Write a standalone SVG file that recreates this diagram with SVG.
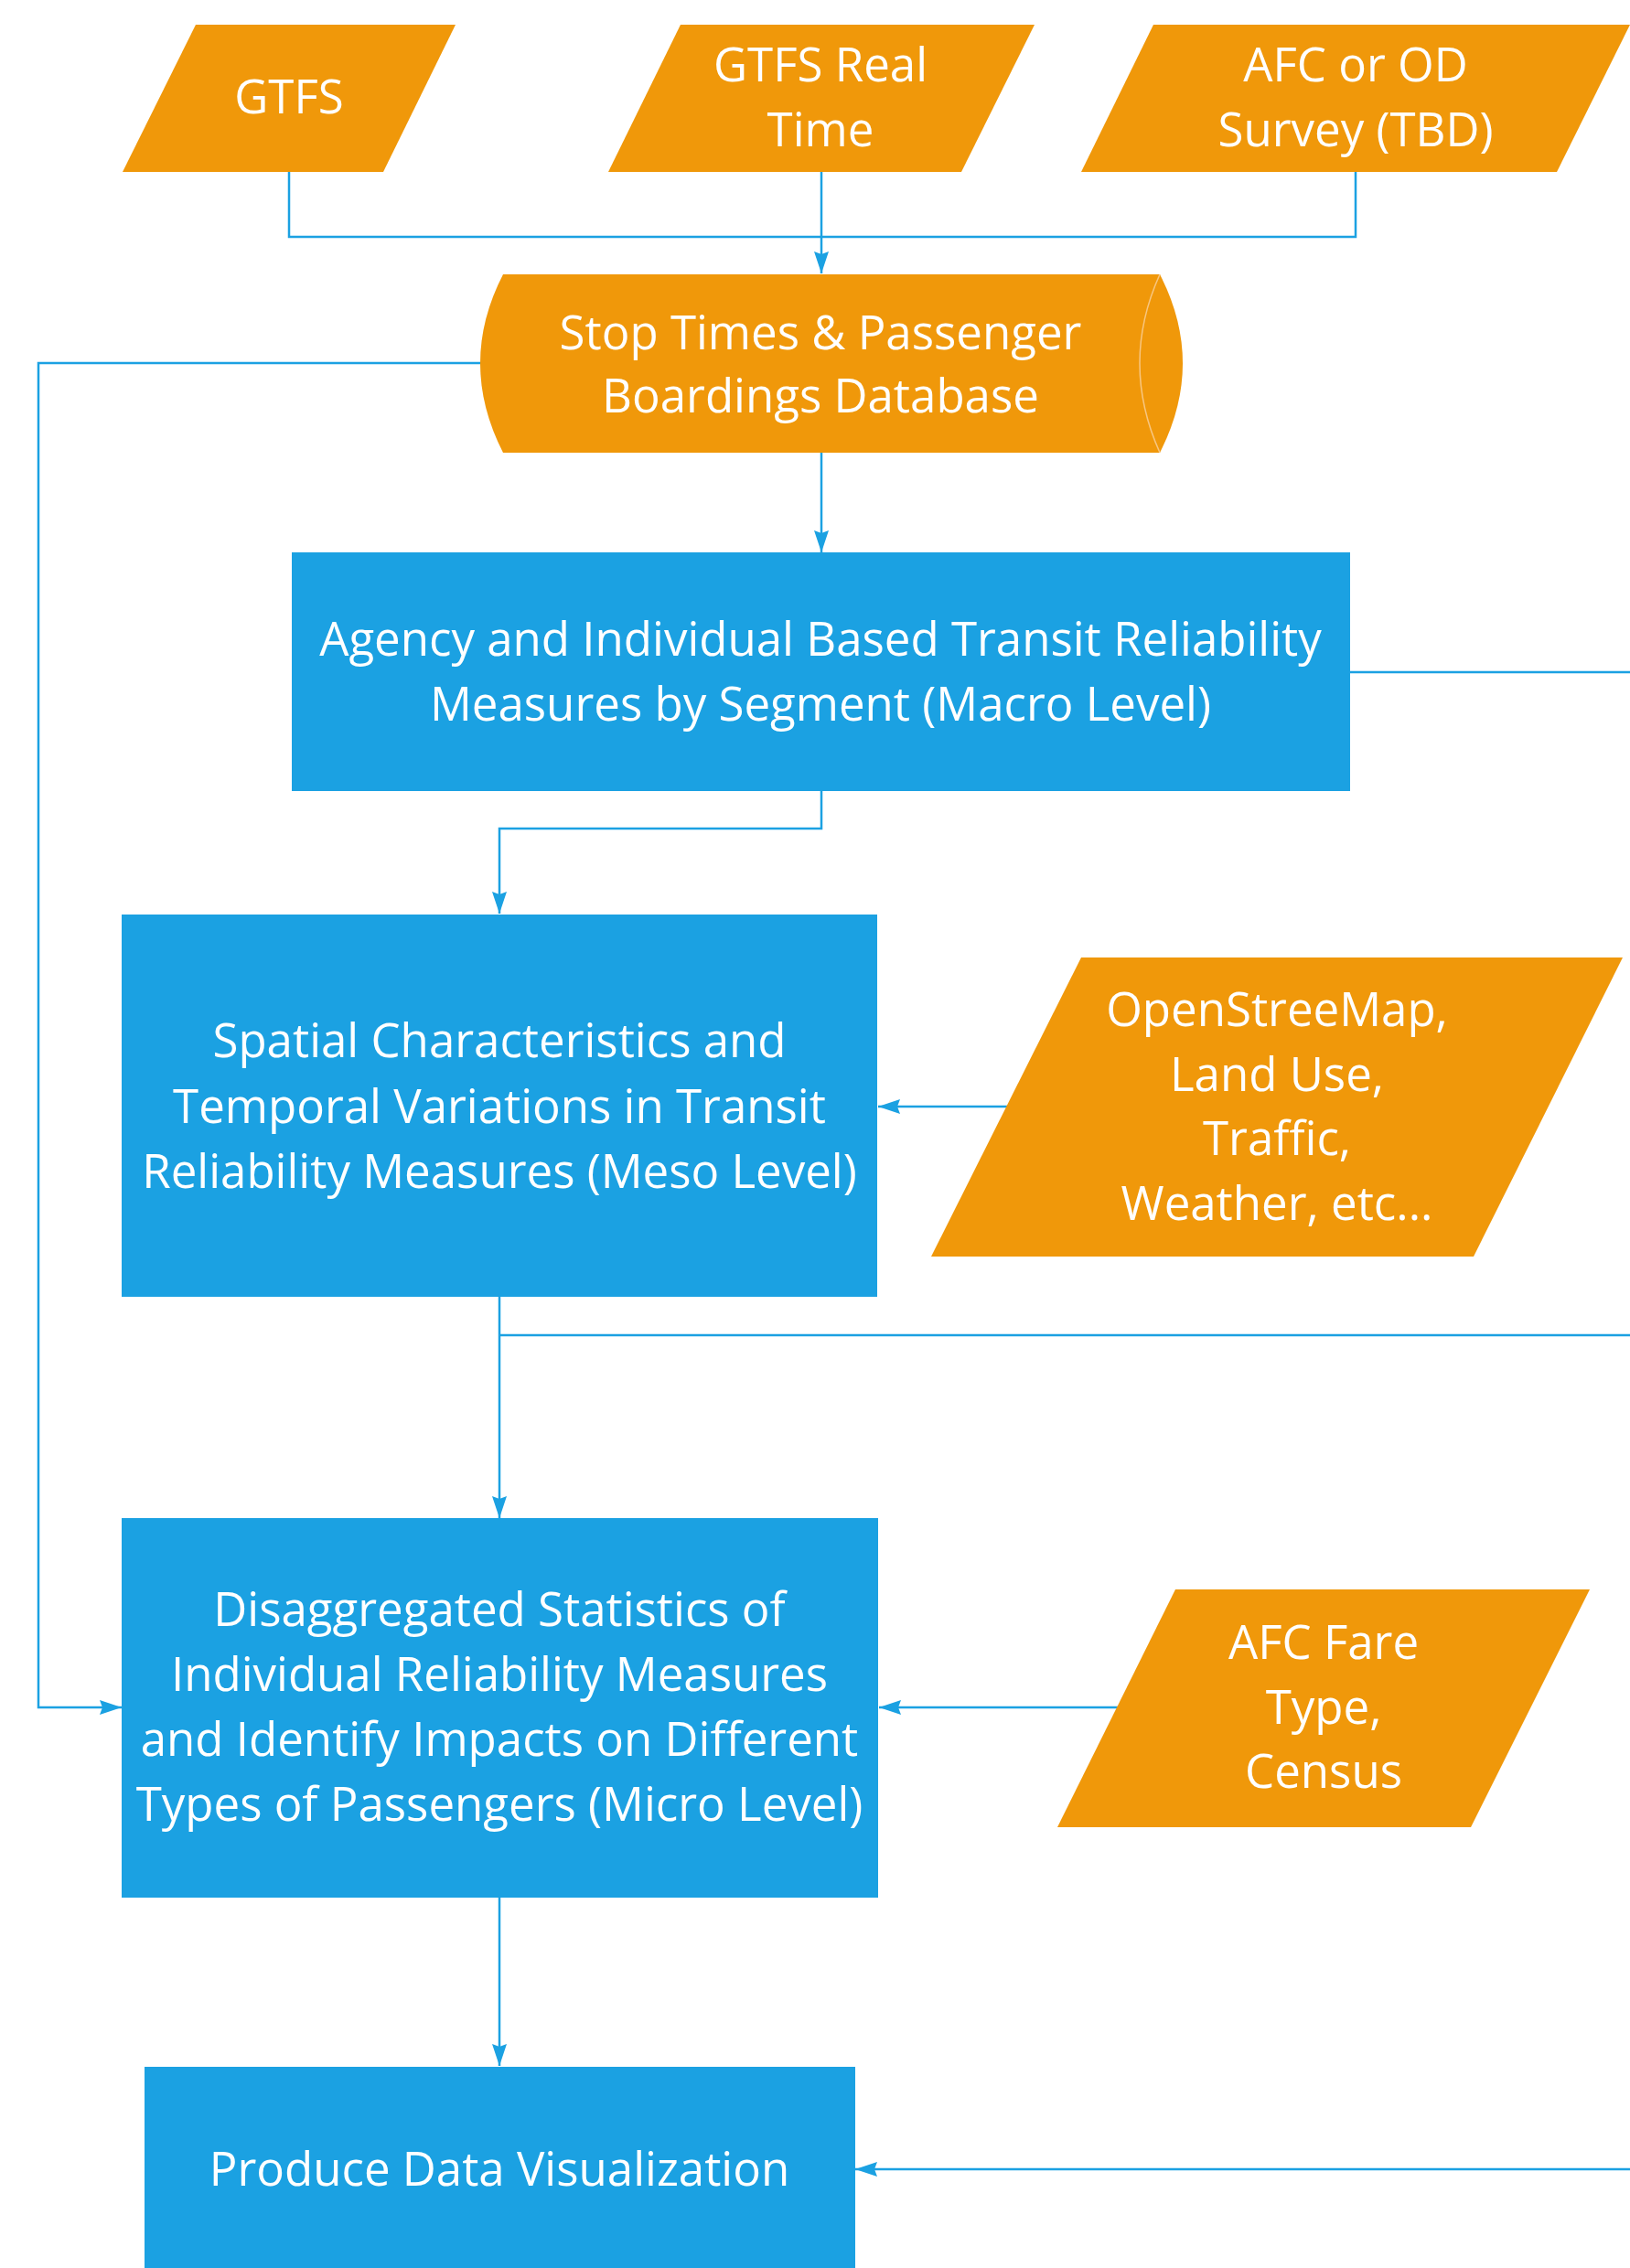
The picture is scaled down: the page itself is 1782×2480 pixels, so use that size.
<svg xmlns="http://www.w3.org/2000/svg" width="1782" height="2480" viewBox="0 0 1782 2480">
<defs>
<marker id="ah" markerUnits="userSpaceOnUse" markerWidth="26" markerHeight="18" refX="24" refY="8" orient="auto">
<path d="M0,0 L24,8 L0,16 L3,8 Z" fill="#1BA1E2"/>
</marker>
</defs>
<style>
.io{fill:#F0980A;}
.pr{fill:#1BA1E2;}
.t{font-family:"Open Sans","Noto Sans","Liberation Sans",sans-serif;font-size:51px;fill:#FFFFFF;text-anchor:middle;}
.c{fill:none;stroke:#1BA1E2;stroke-width:2.5;}
</style>
<rect width="1782" height="2480" fill="#FFFFFF"/>
<g id="connectors">
<polyline class="c" points="316,187 316,259 1482,259 1482,187"/>
<line class="c" x1="898" y1="188" x2="898" y2="299" marker-end="url(#ah)"/>
<line class="c" x1="898" y1="495" x2="898" y2="604" marker-end="url(#ah)"/>
<polyline class="c" points="526,397 42,397 42,1867 133,1867" marker-end="url(#ah)"/>
<line class="c" x1="1476" y1="735" x2="1782" y2="735"/>
<polyline class="c" points="898,865 898,906 546,906 546,999" marker-end="url(#ah)"/>
<line class="c" x1="1102" y1="1210" x2="960" y2="1210" marker-end="url(#ah)"/>
<line class="c" x1="546" y1="1418" x2="546" y2="1660" marker-end="url(#ah)"/>
<line class="c" x1="546" y1="1460" x2="1782" y2="1460"/>
<line class="c" x1="1222" y1="1867" x2="961" y2="1867" marker-end="url(#ah)"/>
<line class="c" x1="546" y1="2075" x2="546" y2="2259" marker-end="url(#ah)"/>
<line class="c" x1="1782" y1="2372" x2="935" y2="2372" marker-end="url(#ah)"/>
</g>
<g id="gtfs">
<polygon class="io" points="214,27 498,27 419,188 134,188"/>
<text class="t" x="316" y="124">GTFS</text>
</g>
<g id="gtfs-rt">
<polygon class="io" points="744,27 1131,27 1051,188 665,188"/>
<text class="t" x="897" y="89">GTFS Real</text>
<text class="t" x="897" y="160">Time</text>
</g>
<g id="afc-od">
<polygon class="io" points="1261,27 1782,27 1702,188 1182,188"/>
<text class="t" x="1482" y="89">AFC or OD</text>
<text class="t" x="1482" y="160">Survey (TBD)</text>
</g>
<g id="database">
<path class="io" d="M550,300 L1268,300 Q1318,397 1268,495 L550,495 Q500,397 550,300 Z"/>
<path d="M1268,300 Q1224,397 1268,495" fill="none" stroke="#F8C680" stroke-width="1.5"/>
<text class="t" x="897" y="382">Stop Times &amp; Passenger</text>
<text class="t" x="897" y="451">Boardings Database</text>
</g>
<g id="macro">
<rect class="pr" x="319" y="604" width="1157" height="261"/>
<text class="t" x="897" y="717">Agency and Individual Based Transit Reliability</text>
<text class="t" x="897" y="788">Measures by Segment (Macro Level)</text>
</g>
<g id="meso">
<rect class="pr" x="133" y="1000" width="826" height="418"/>
<text class="t" x="546" y="1156">Spatial Characteristics and</text>
<text class="t" x="546" y="1228">Temporal Variations in Transit</text>
<text class="t" x="546" y="1299">Reliability Measures (Meso Level)</text>
</g>
<g id="osm">
<polygon class="io" points="1182,1047 1774,1047 1611,1374 1018,1374"/>
<text class="t" x="1396" y="1122">OpenStreeMap,</text>
<text class="t" x="1396" y="1193">Land Use,</text>
<text class="t" x="1396" y="1263">Traffic,</text>
<text class="t" x="1396" y="1334">Weather, etc...</text>
</g>
<g id="micro">
<rect class="pr" x="133" y="1660" width="827" height="415"/>
<text class="t" x="546" y="1778">Disaggregated Statistics of</text>
<text class="t" x="546" y="1849">Individual Reliability Measures</text>
<text class="t" x="546" y="1920">and Identify Impacts on Different</text>
<text class="t" x="546" y="1991">Types of Passengers (Micro Level)</text>
</g>
<g id="afc-fare">
<polygon class="io" points="1285,1738 1738,1738 1608,1998 1156,1998"/>
<text class="t" x="1447" y="1814">AFC Fare</text>
<text class="t" x="1447" y="1885">Type,</text>
<text class="t" x="1447" y="1955">Census</text>
</g>
<g id="visualization">
<rect class="pr" x="158" y="2260" width="777" height="230"/>
<text class="t" x="546" y="2390">Produce Data Visualization</text>
</g>
</svg>
